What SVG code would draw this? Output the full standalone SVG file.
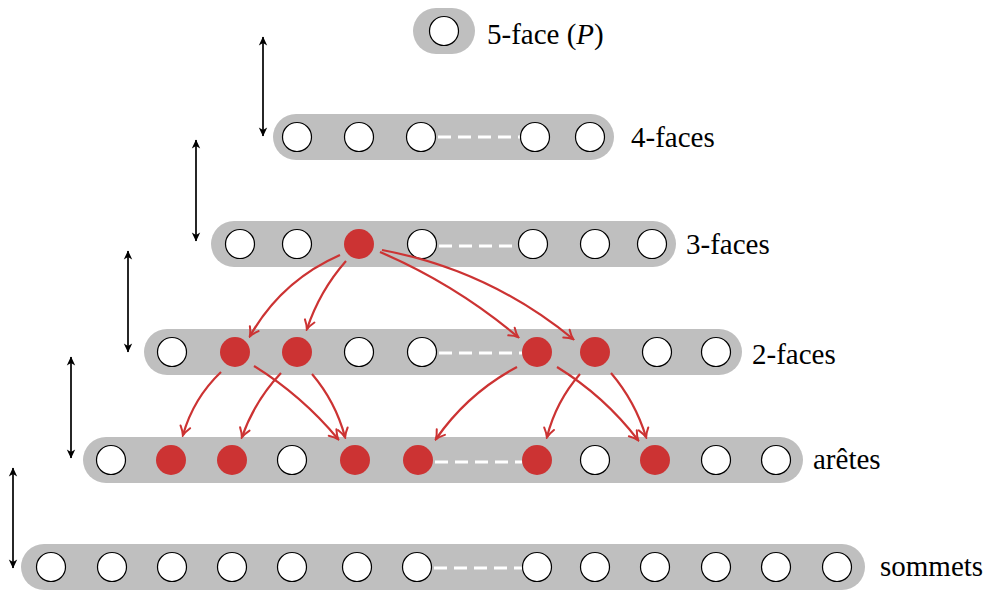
<svg xmlns="http://www.w3.org/2000/svg" width="985" height="592" viewBox="0 0 985 592">
<style>
.pill{fill:#bfbfbf}
.n{fill:#fff;stroke:#000;stroke-width:1.2}
.r{fill:#cc3333}
.dash{stroke:#fff;stroke-width:3;stroke-dasharray:13 7;fill:none}
.lbl{font-family:"Liberation Serif","Times New Roman",serif;font-size:29px;fill:#000}
.red{fill:none;stroke:#cc3333;stroke-width:2.2;marker-end:url(#ar)}
.blk{fill:none;stroke:#000;stroke-width:1.7;marker-start:url(#ab);marker-end:url(#ab)}
</style>
<defs>
<marker id="ar" viewBox="-11 -7 13 14" refX="0" refY="0" markerWidth="13" markerHeight="14" markerUnits="userSpaceOnUse" orient="auto">
<path d="M-8.5,-5 Q-3.5,-1.2 0.5,0 Q-3.5,1.2 -8.5,5" fill="none" stroke="#cc3333" stroke-width="2" stroke-linecap="round"/>
</marker>
<marker id="ab" viewBox="-11 -6 13 12" refX="0" refY="0" markerWidth="13" markerHeight="12" markerUnits="userSpaceOnUse" orient="auto-start-reverse">
<path d="M0.5,0 L-8.5,-4.2 L-6,0 L-8.5,4.2 Z" fill="#000"/>
</marker>
</defs>

<g id="row-5">
<rect class="pill" x="413" y="8" width="62" height="46" rx="23"/>
<g id="f5-1"><circle class="n" cx="444" cy="31" r="14.5"/></g>
<text class="lbl" x="487" y="44">5-face (<tspan font-style="italic">P</tspan>)</text>
</g>

<g id="row-4">
<rect class="pill" x="273" y="114" width="341" height="46" rx="23"/>
<line class="dash" x1="438" y1="137" x2="521" y2="137"/>
<g id="f4-1"><circle class="n" cx="297" cy="137" r="14.5"/></g>
<g id="f4-2"><circle class="n" cx="359" cy="137" r="14.5"/></g>
<g id="f4-3"><circle class="n" cx="421" cy="137" r="14.5"/></g>
<g id="f4-4"><circle class="n" cx="535" cy="137" r="14.5"/></g>
<g id="f4-5"><circle class="n" cx="590" cy="137" r="14.5"/></g>
<text class="lbl" x="631" y="147">4-faces</text>
</g>

<g id="row-3">
<rect class="pill" x="211" y="221" width="465" height="46" rx="23"/>
<line class="dash" x1="439" y1="246" x2="519" y2="246"/>
<g id="f3-1"><circle class="n" cx="240" cy="244" r="14.5"/></g>
<g id="f3-2"><circle class="n" cx="297" cy="244" r="14.5"/></g>
<g id="f3-3"><circle class="r" cx="359" cy="244" r="15"/></g>
<g id="f3-4"><circle class="n" cx="422" cy="244" r="14.5"/></g>
<g id="f3-5"><circle class="n" cx="533" cy="244" r="14.5"/></g>
<g id="f3-6"><circle class="n" cx="595" cy="244" r="14.5"/></g>
<g id="f3-7"><circle class="n" cx="652" cy="244" r="14.5"/></g>
<text class="lbl" x="686" y="254">3-faces</text>
</g>

<g id="row-2">
<rect class="pill" x="144" y="329" width="598" height="46" rx="23"/>
<line class="dash" x1="439" y1="353" x2="522" y2="353"/>
<g id="f2-1"><circle class="n" cx="172" cy="352" r="14.5"/></g>
<g id="f2-2"><circle class="r" cx="235" cy="352" r="15"/></g>
<g id="f2-3"><circle class="r" cx="297" cy="352" r="15"/></g>
<g id="f2-4"><circle class="n" cx="359" cy="352" r="14.5"/></g>
<g id="f2-5"><circle class="n" cx="422" cy="352" r="14.5"/></g>
<g id="f2-6"><circle class="r" cx="537" cy="352" r="15"/></g>
<g id="f2-7"><circle class="r" cx="595" cy="352" r="15"/></g>
<g id="f2-8"><circle class="n" cx="657" cy="352" r="14.5"/></g>
<g id="f2-9"><circle class="n" cx="716" cy="352" r="14.5"/></g>
<text class="lbl" x="752" y="364">2-faces</text>
</g>

<g id="row-1">
<rect class="pill" x="83" y="437" width="720" height="46" rx="23"/>
<line class="dash" x1="435" y1="462" x2="522" y2="462"/>
<g id="e-1"><circle class="n" cx="111" cy="460" r="14.5"/></g>
<g id="e-2"><circle class="r" cx="171" cy="460" r="15"/></g>
<g id="e-3"><circle class="r" cx="232" cy="460" r="15"/></g>
<g id="e-4"><circle class="n" cx="292" cy="460" r="14.5"/></g>
<g id="e-5"><circle class="r" cx="355" cy="460" r="15"/></g>
<g id="e-6"><circle class="r" cx="418" cy="460" r="15"/></g>
<g id="e-7"><circle class="r" cx="537" cy="460" r="15"/></g>
<g id="e-8"><circle class="n" cx="595" cy="460" r="14.5"/></g>
<g id="e-9"><circle class="r" cx="655" cy="460" r="15"/></g>
<g id="e-10"><circle class="n" cx="716" cy="460" r="14.5"/></g>
<g id="e-11"><circle class="n" cx="776" cy="460" r="14.5"/></g>
<text class="lbl" x="813" y="469">arêtes</text>
</g>

<g id="row-0">
<rect class="pill" x="21" y="544" width="844" height="46" rx="23"/>
<line class="dash" x1="434" y1="568" x2="522" y2="568"/>
<g id="v-1"><circle class="n" cx="51" cy="567" r="14.5"/></g>
<g id="v-2"><circle class="n" cx="112" cy="567" r="14.5"/></g>
<g id="v-3"><circle class="n" cx="172" cy="567" r="14.5"/></g>
<g id="v-4"><circle class="n" cx="232" cy="567" r="14.5"/></g>
<g id="v-5"><circle class="n" cx="292" cy="567" r="14.5"/></g>
<g id="v-6"><circle class="n" cx="357" cy="567" r="14.5"/></g>
<g id="v-7"><circle class="n" cx="417" cy="567" r="14.5"/></g>
<g id="v-8"><circle class="n" cx="537" cy="567" r="14.5"/></g>
<g id="v-9"><circle class="n" cx="595" cy="567" r="14.5"/></g>
<g id="v-10"><circle class="n" cx="655" cy="567" r="14.5"/></g>
<g id="v-11"><circle class="n" cx="716" cy="567" r="14.5"/></g>
<g id="v-12"><circle class="n" cx="776" cy="567" r="14.5"/></g>
<g id="v-13"><circle class="n" cx="837" cy="567" r="14.5"/></g>
<text class="lbl" x="880" y="576">sommets</text>
</g>

<g id="connectors">
<line class="blk" x1="263" y1="37" x2="263" y2="136"/>
<line class="blk" x1="196" y1="140" x2="196" y2="241"/>
<line class="blk" x1="128" y1="251" x2="128" y2="352"/>
<line class="blk" x1="71" y1="357" x2="71" y2="458"/>
<line class="blk" x1="13" y1="468" x2="13" y2="568"/>

<path class="red" d="M340,255 Q281.6,280.6 250,336"/>
<path class="red" d="M346,261 Q319.6,291 307,329"/>
<path class="red" d="M380,252 Q455.3,284.3 518,337"/>
<path class="red" d="M382,250 Q488.9,270 573,339"/>

<path class="red" d="M221,372 Q193.4,398.3 183,435"/>
<path class="red" d="M254,366 Q301.9,395.7 338,439"/>
<path class="red" d="M281,373 Q254.7,400.8 242,437"/>
<path class="red" d="M312,374 Q335.6,401.8 345,437"/>
<path class="red" d="M517,367 Q467.8,393.3 436,439"/>
<path class="red" d="M557,367 Q604.2,396 638,440"/>
<path class="red" d="M580,374 Q556,401.5 547,437"/>
<path class="red" d="M611,373 Q635.1,401.4 646,437"/>
</g>
</svg>
